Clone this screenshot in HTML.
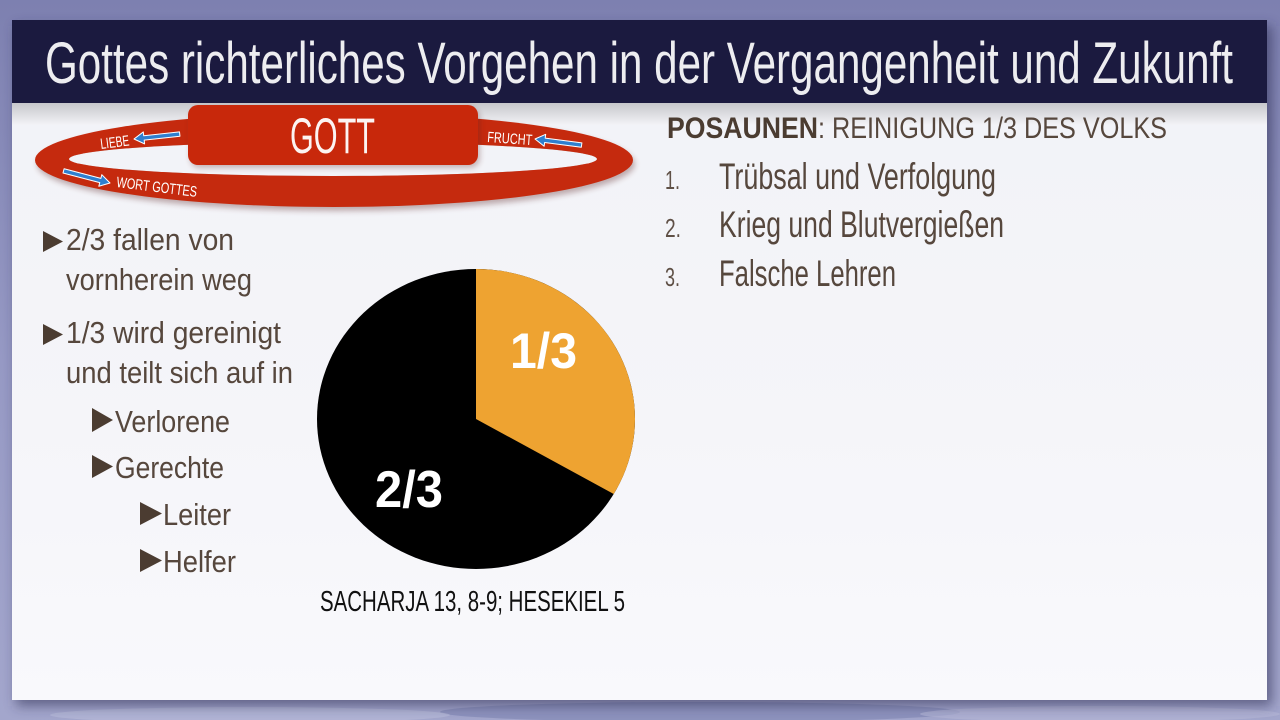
<!DOCTYPE html>
<html>
<head>
<meta charset="utf-8">
<style>
  html,body{margin:0;padding:0;width:1280px;height:720px;overflow:hidden;background:#8a8dba;}
  svg{display:block;}
  text{font-family:"Liberation Sans Narrow","Liberation Sans",sans-serif;}
</style>
</head>
<body>
<svg width="1280" height="720" viewBox="0 0 1280 720" xmlns="http://www.w3.org/2000/svg">
  <defs>
    <linearGradient id="bg" x1="0" y1="0" x2="0" y2="1">
      <stop offset="0" stop-color="#7d80b0"/>
      <stop offset="0.5" stop-color="#9699c4"/>
      <stop offset="1" stop-color="#a3a6cc"/>
    </linearGradient>
    <linearGradient id="panel" x1="0" y1="0" x2="0" y2="1">
      <stop offset="0" stop-color="#f1f2f7"/>
      <stop offset="0.6" stop-color="#f5f5f9"/>
      <stop offset="1" stop-color="#f9f9fc"/>
    </linearGradient>
    <linearGradient id="tshadow" x1="0" y1="0" x2="0" y2="1">
      <stop offset="0" stop-color="#000" stop-opacity="0.18"/>
      <stop offset="1" stop-color="#000" stop-opacity="0"/>
    </linearGradient>
    <filter id="blur6" x="-10%" y="-10%" width="120%" height="120%">
      <feGaussianBlur stdDeviation="6"/>
    </filter>
    <filter id="blur3" x="-10%" y="-30%" width="120%" height="160%">
      <feGaussianBlur stdDeviation="3"/>
    </filter>
    <mask id="ringmask">
      <rect x="0" y="0" width="1280" height="720" fill="#fff"/>
      <ellipse cx="333" cy="159" rx="264" ry="17" fill="#000"/>
    </mask>
  </defs>

  <!-- outer background -->
  <rect x="0" y="0" width="1280" height="720" fill="url(#bg)"/>
  <ellipse cx="700" cy="712" rx="260" ry="10" fill="#7f86b2" opacity="0.6"/>
  <ellipse cx="250" cy="715" rx="200" ry="8" fill="#b9bcd9" opacity="0.6"/>
  <ellipse cx="1100" cy="714" rx="180" ry="8" fill="#b5b8d6" opacity="0.6"/>

  <!-- panel shadow -->
  <rect x="16" y="26" width="1256" height="680" fill="#2a2c50" opacity="0.55" filter="url(#blur6)"/>
  <!-- panel -->
  <rect x="12" y="20" width="1255" height="680" fill="url(#panel)"/>
  <!-- shadow under title bar -->
  <rect x="12" y="103" width="1255" height="22" fill="url(#tshadow)"/>

  <!-- title bar -->
  <rect x="12" y="20" width="1255" height="83" fill="#1b1a3f"/>
  <text x="45" y="83" font-size="58" fill="#ffffff" fill-opacity="0.92" textLength="1188" lengthAdjust="spacingAndGlyphs">Gottes richterliches Vorgehen in der Vergangenheit und Zukunft</text>

  <!-- ring -->
  <ellipse cx="336" cy="164" rx="299" ry="47" fill="#5a2020" opacity="0.35" filter="url(#blur3)" mask="url(#ringmask)"/>
  <ellipse cx="334" cy="160" rx="299" ry="47" fill="#c52a0e" mask="url(#ringmask)"/>
  <!-- GOTT box -->
  <rect x="190" y="108" width="290" height="60" rx="10" fill="#5a2020" opacity="0.3" filter="url(#blur3)"/>
  <rect x="188" y="105" width="290" height="60" rx="10" fill="#c8280b"/>
  <text x="290" y="153" font-size="50" fill="#ffffff" fill-opacity="0.95" textLength="85" lengthAdjust="spacingAndGlyphs">GOTT</text>

  <!-- ring labels -->
  <text x="0" y="0" font-size="15" fill="#ffffff" textLength="29" lengthAdjust="spacingAndGlyphs" transform="translate(101,149) rotate(-7)">LIEBE</text>
  <text x="0" y="0" font-size="15" fill="#ffffff" textLength="45" lengthAdjust="spacingAndGlyphs" transform="translate(487,142) rotate(4)">FRUCHT</text>
  <text x="0" y="0" font-size="15" fill="#ffffff" textLength="81" lengthAdjust="spacingAndGlyphs" transform="translate(116,187) rotate(7)">WORT GOTTES</text>

  <!-- arrows -->
  <g stroke="#ffffff" stroke-width="1" fill="#2f7fcf" stroke-linejoin="round">
    <g transform="translate(134,139) rotate(-6.2)">
      <polygon points="0,0 10,-6 10,-2.2 46,-2.2 46,2.2 10,2.2 10,6"/>
    </g>
    <g transform="translate(535,139) rotate(7.4)">
      <polygon points="0,0 10,-6 10,-2.2 47,-2.2 47,2.2 10,2.2 10,6"/>
    </g>
    <g transform="translate(110,183) rotate(194.6)">
      <polygon points="0,0 10,-6 10,-2.2 48,-2.2 48,2.2 10,2.2 10,6"/>
    </g>
  </g>

  <!-- left bullets -->
  <g fill="#4b3c31">
    <polygon points="43,231 63,241.5 43,252"/>
    <polygon points="43,324 63,334.5 43,345"/>
    <polygon points="92,408 113,420 92,432"/>
    <polygon points="92,455 113,466.5 92,478"/>
    <polygon points="140,502 162,513.5 140,525"/>
    <polygon points="140,549 162,560.5 140,572"/>
  </g>
  <g fill="#56473d" font-size="31">
    <text x="66" y="250" textLength="168" lengthAdjust="spacingAndGlyphs">2/3 fallen von</text>
    <text x="66" y="290" textLength="186" lengthAdjust="spacingAndGlyphs">vornherein weg</text>
    <text x="66" y="343" textLength="215" lengthAdjust="spacingAndGlyphs">1/3 wird gereinigt</text>
    <text x="66" y="383" textLength="227" lengthAdjust="spacingAndGlyphs">und teilt sich auf in</text>
    <text x="115" y="432" textLength="115" lengthAdjust="spacingAndGlyphs">Verlorene</text>
    <text x="115" y="478" textLength="109" lengthAdjust="spacingAndGlyphs">Gerechte</text>
    <text x="163" y="525" textLength="68" lengthAdjust="spacingAndGlyphs">Leiter</text>
    <text x="163" y="572" textLength="73" lengthAdjust="spacingAndGlyphs">Helfer</text>
  </g>

  <!-- pie -->
  <ellipse cx="476" cy="419" rx="159" ry="150" fill="#000000"/>
  <path d="M476,419 L476,269 A159,150 0 0 1 613.7,494 Z" fill="#eea331"/>
  <text x="510" y="368" font-size="50" font-weight="bold" fill="#ffffff" textLength="67" lengthAdjust="spacingAndGlyphs" style="font-family:'Liberation Sans','Liberation Sans Narrow',sans-serif">1/3</text>
  <text x="375" y="507" font-size="52" font-weight="bold" fill="#ffffff" textLength="68" lengthAdjust="spacingAndGlyphs" style="font-family:'Liberation Sans','Liberation Sans Narrow',sans-serif">2/3</text>
  <text x="320" y="611" font-size="29" fill="#111111" textLength="305" lengthAdjust="spacingAndGlyphs">SACHARJA 13, 8-9; HESEKIEL 5</text>

  <!-- right column -->
  <text x="667" y="138" font-size="30" font-weight="bold" fill="#4b3c31" textLength="151" lengthAdjust="spacingAndGlyphs">POSAUNEN</text>
  <text x="818" y="138" font-size="30" fill="#56473d" textLength="349" lengthAdjust="spacingAndGlyphs">: REINIGUNG 1/3 DES VOLKS</text>

  <g fill="#5f5046" font-size="26">
    <text x="665" y="189" textLength="15" lengthAdjust="spacingAndGlyphs">1.</text>
    <text x="665" y="237" textLength="16" lengthAdjust="spacingAndGlyphs">2.</text>
    <text x="665" y="286" textLength="15" lengthAdjust="spacingAndGlyphs">3.</text>
  </g>
  <g fill="#56473d" font-size="37">
    <text x="719" y="189" textLength="277" lengthAdjust="spacingAndGlyphs">Trübsal und Verfolgung</text>
    <text x="719" y="237" textLength="285" lengthAdjust="spacingAndGlyphs">Krieg und Blutvergießen</text>
    <text x="719" y="286" textLength="177" lengthAdjust="spacingAndGlyphs">Falsche Lehren</text>
  </g>
</svg>
</body>
</html>
